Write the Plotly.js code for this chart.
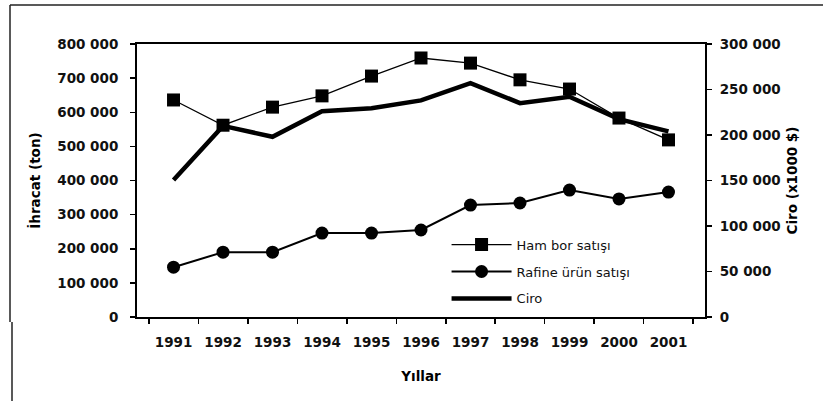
<!DOCTYPE html>
<html>
<head>
<meta charset="utf-8">
<script src="https://cdn.plot.ly/plotly-3.0.1.min.js"></script>
<style>
html,body{margin:0;padding:0;background:#fff;}
#chart{width:823px;height:401px;}
</style>
</head>
<body>
<div id="chart"></div>
<script>
const years = ['1991','1992','1993','1994','1995','1996','1997','1998','1999','2000','2001'];
const hamBor = [636000, 562000, 615000, 648000, 706000, 759000, 744000, 695000, 668000, 583000, 519000];
const rafine = [146000, 190000, 190000, 246000, 246000, 255000, 328000, 334000, 372000, 346000, 366000];
const ciro = [150500, 210000, 198000, 226000, 229500, 238000, 257000, 235000, 242000, 217500, 204000];

const seriesNames = ['Ham bor satışı', 'Rafine ürün satışı', 'Ciro'];
const leftTicks = [0, 100000, 200000, 300000, 400000, 500000, 600000, 700000, 800000];
const rightTicks = [0, 50000, 100000, 150000, 200000, 250000, 300000];

const fmt = v => String(v).replace(/\B(?=(\d{3})+(?!\d))/g, ' ');

const tickFont = {family: 'DejaVu Sans', size: 13.5, color: '#111', weight: 'bold'};
const titleFont = {family: 'DejaVu Sans', size: 13.5, color: '#000', weight: 'bold'};

const traces = [
  {
    x: years, y: hamBor, name: seriesNames[0], type: 'scatter', mode: 'lines+markers',
    line: {color: '#000', width: 1.3},
    marker: {symbol: 'square', size: 13, color: '#000'},
    legendgroup: 'a'
  },
  {
    x: years, y: rafine, name: seriesNames[1], type: 'scatter', mode: 'lines+markers',
    line: {color: '#000', width: 2},
    marker: {symbol: 'circle', size: 13, color: '#000'},
    legendgroup: 'b'
  },
  {
    x: years, y: ciro, name: seriesNames[2], type: 'scatter', mode: 'lines', yaxis: 'y2',
    line: {color: '#000', width: 4.5},
    legendgroup: 'c'
  }
];

const layout = {
  width: 823, height: 401,
  margin: {l: 137, r: 118, t: 44, b: 84},
  paper_bgcolor: '#fff', plot_bgcolor: '#fff',
  showlegend: true,
  legend: {
    x: 0.545, y: 0.32, xanchor: 'left', yanchor: 'top',
    bgcolor: 'rgba(0,0,0,0)',
    font: {family: 'DejaVu Sans', size: 13, color: '#111'},
    itemwidth: 60, traceorder: 'grouped', tracegroupgap: 7
  },
  xaxis: {
    type: 'category', tickson: 'boundaries',
    showline: true, linecolor: '#000', linewidth: 2, mirror: true,
    ticks: 'outside', ticklen: 5, tickcolor: '#000', tickwidth: 1.5,
    ticklabelstandoff: 12,
    showgrid: false, zeroline: false,
    tickfont: tickFont,
    title: {text: 'Yıllar', font: titleFont, standoff: 22}
  },
  yaxis: {
    range: [0, 800000], tickvals: leftTicks, ticktext: leftTicks.map(fmt),
    showline: true, linecolor: '#000', linewidth: 2,
    ticks: 'outside', ticklen: 5, tickcolor: '#000', tickwidth: 1.5,
    ticklabelstandoff: 9,
    showgrid: false, zeroline: false,
    tickfont: tickFont,
    title: {text: 'İhracat (ton)', font: titleFont, standoff: 14}
  },
  yaxis2: {
    range: [0, 300000], tickvals: rightTicks, ticktext: rightTicks.map(fmt),
    overlaying: 'y', side: 'right',
    showline: true, linecolor: '#000', linewidth: 2,
    ticks: 'outside', ticklen: 5, tickcolor: '#000', tickwidth: 1.5,
    ticklabelstandoff: 5,
    showgrid: false, zeroline: false,
    tickfont: tickFont,
    title: {text: 'Ciro (x1000 $)', font: titleFont, standoff: 8}
  },
  shapes: [
    {type: 'line', xref: 'paper', yref: 'paper', x0: (10 - 137) / 568, x1: (823 - 137) / 568, y0: (317 - 5) / 273, y1: (317 - 5) / 273, line: {color: '#222', width: 1.5}},
    {type: 'line', xref: 'paper', yref: 'paper', x0: (10 - 137) / 568, x1: (10 - 137) / 568, y0: (317 - 5) / 273, y1: (317 - 322) / 273, line: {color: '#222', width: 1.5}},
    {type: 'line', xref: 'paper', yref: 'paper', x0: (12 - 137) / 568, x1: (12 - 137) / 568, y0: (317 - 322) / 273, y1: (317 - 401) / 273, line: {color: '#222', width: 1.5}}
  ]
};

Plotly.newPlot('chart', traces, layout, {displayModeBar: false, staticPlot: true});
</script>
</body>
</html>
